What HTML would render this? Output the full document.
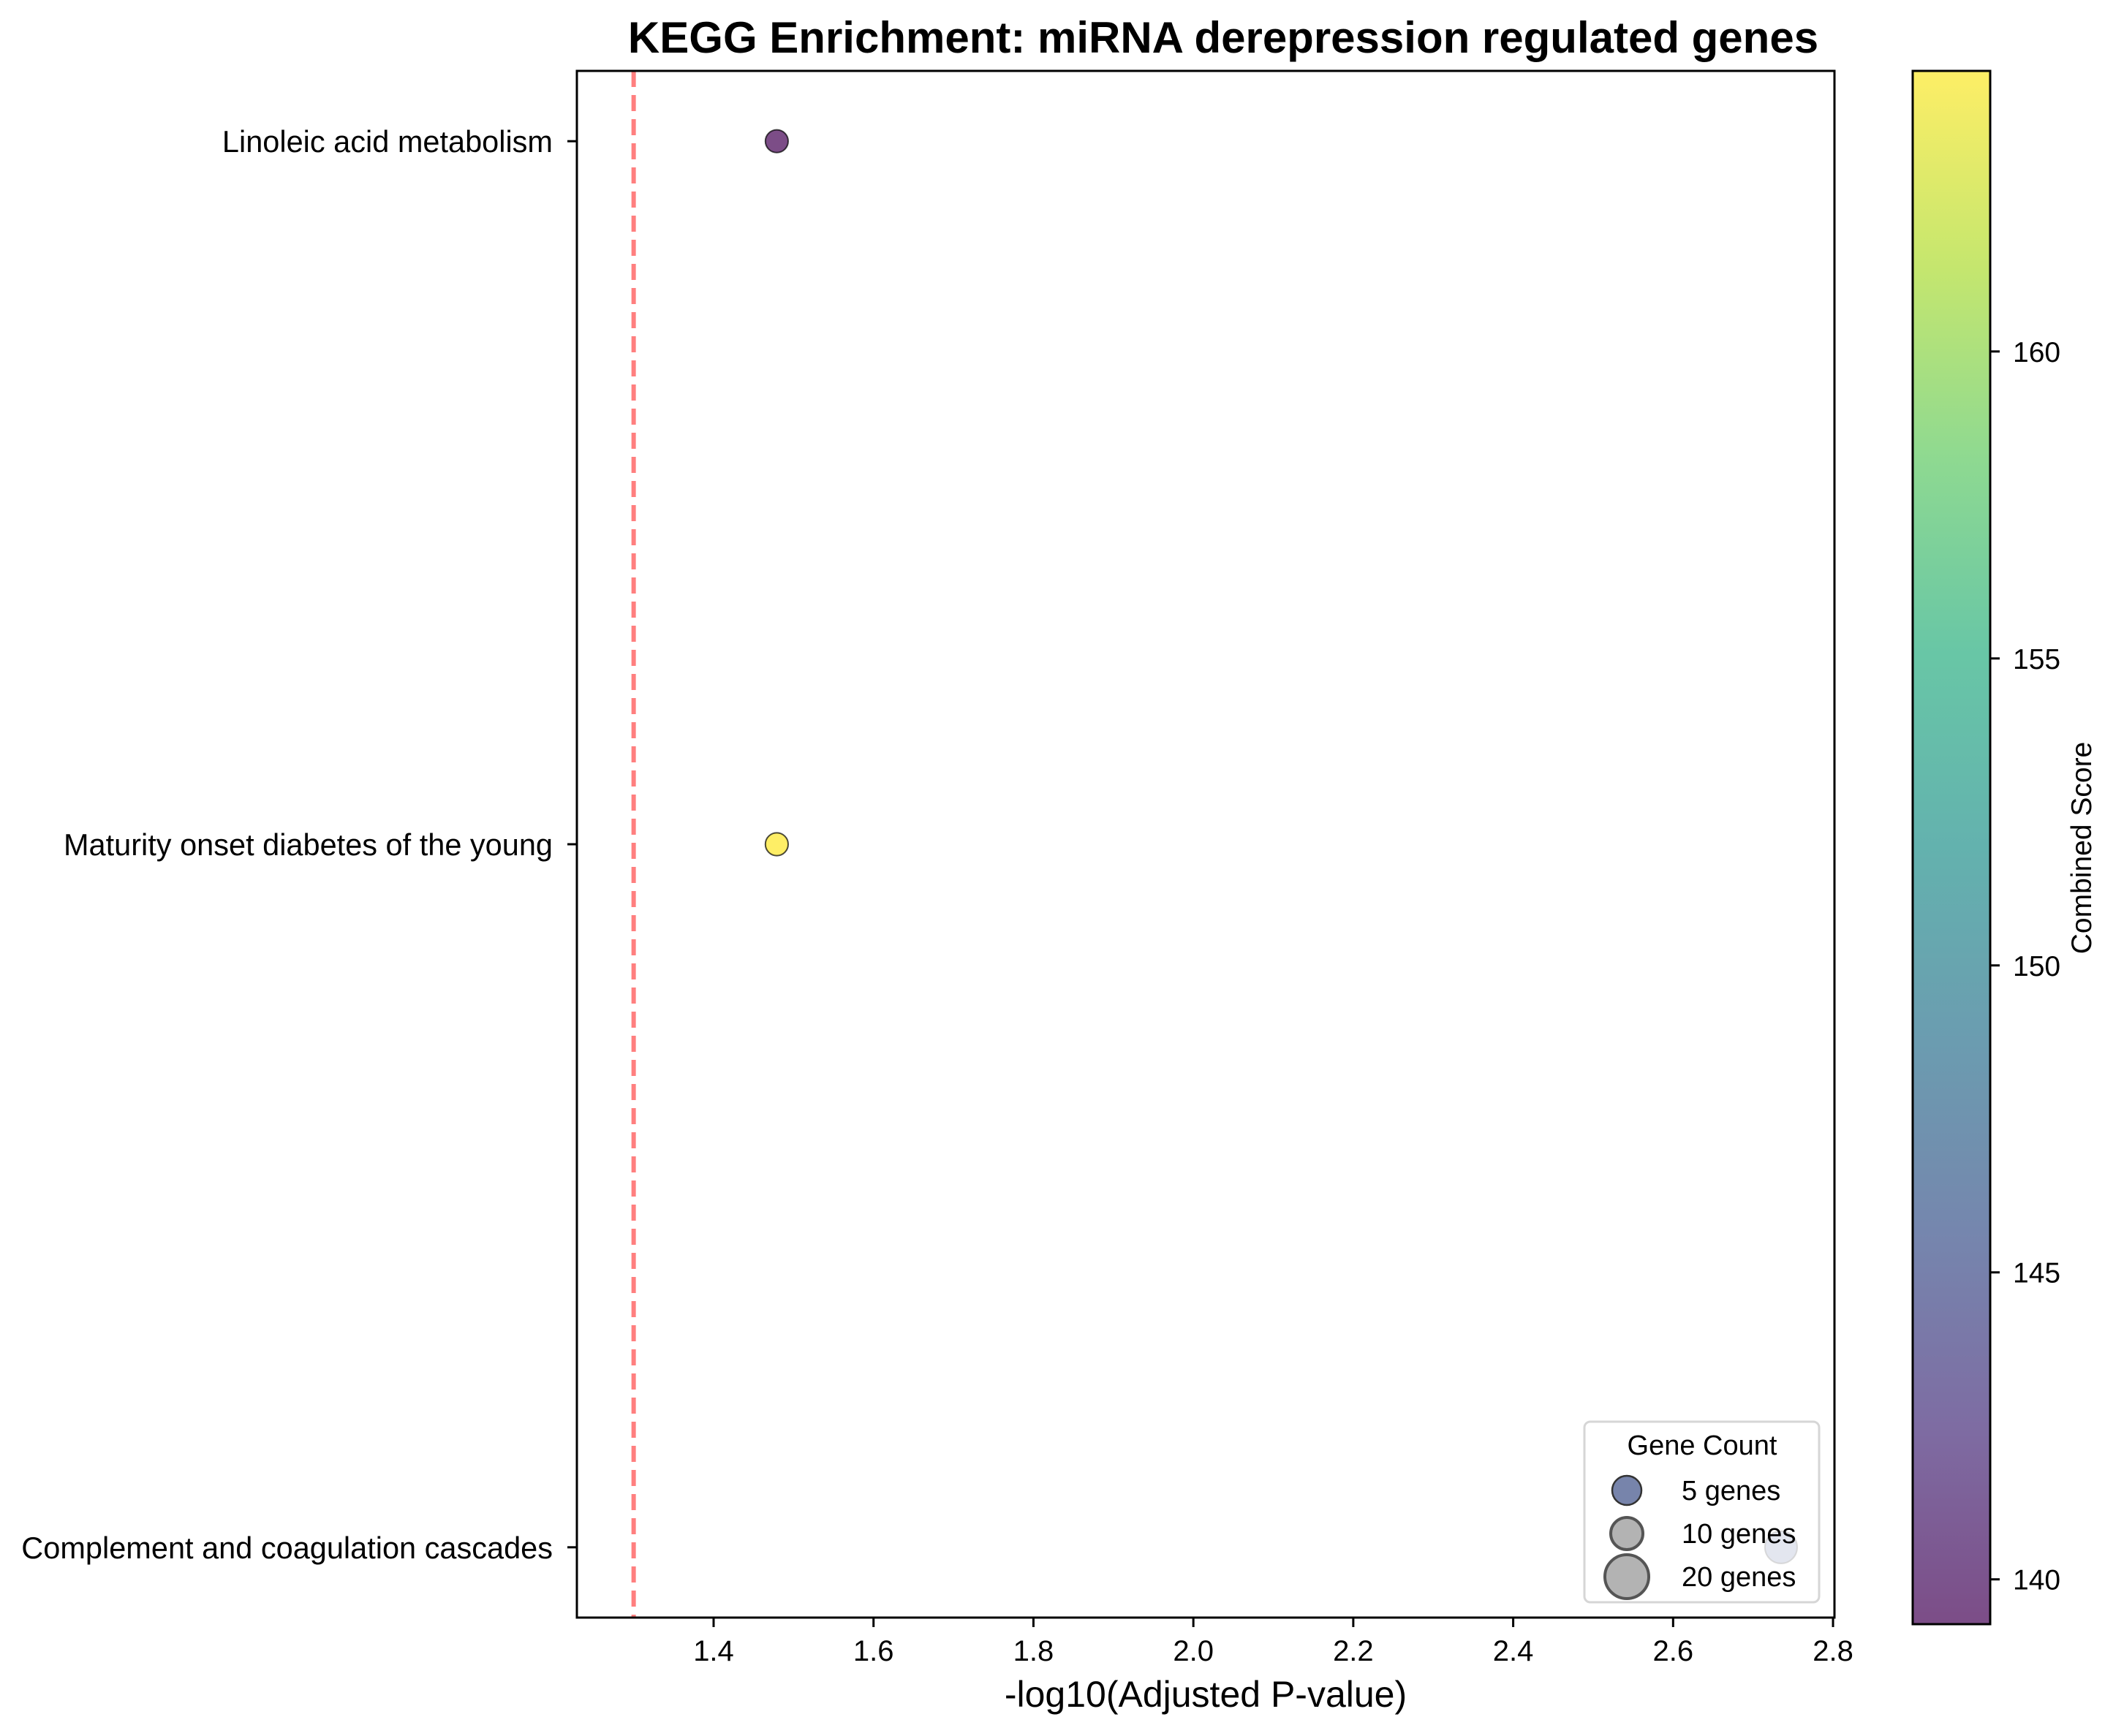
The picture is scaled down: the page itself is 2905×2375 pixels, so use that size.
<!DOCTYPE html>
<html><head><meta charset="utf-8"><style>
html,body{margin:0;padding:0;background:#fff}
svg{display:block;font-family:"Liberation Sans",Arial,sans-serif}
</style></head><body>
<svg id="chart" width="2905" height="2375" viewBox="0 0 2905 2375" xmlns="http://www.w3.org/2000/svg">
<defs>
<linearGradient id="vir" x1="0" y1="1" x2="0" y2="0">
<stop offset="0" stop-color="#440154"/><stop offset="0.125" stop-color="#472d7b"/><stop offset="0.25" stop-color="#3b528b"/><stop offset="0.375" stop-color="#2c728e"/><stop offset="0.5" stop-color="#21918c"/><stop offset="0.625" stop-color="#28ae80"/><stop offset="0.75" stop-color="#5ec962"/><stop offset="0.875" stop-color="#addc30"/><stop offset="1" stop-color="#fde725"/>
</linearGradient>
</defs>
<rect width="2905" height="2375" fill="#fff"/>
<text x="1673" y="72" text-anchor="middle" font-size="60" font-weight="bold">KEGG Enrichment: miRNA derepression regulated genes</text>
<g id="plot"></g>
<g id="legend"></g>
<g id="cbar"></g>
</svg>
<script>
const categories = ["Complement and coagulation cascades","Maturity onset diabetes of the young","Linoleic acid metabolism"];
const xValues = [2.735, 1.479, 1.479];
const geneCounts = [6, 3, 3];
const scores = [145.3, 164.57, 139.27];
const xTicks = [1.4,1.6,1.8,2.0,2.2,2.4,2.6,2.8];
const cbTicks = [140,145,150,155,160];
const threshold = 1.300;
const legendLabels = ["5 genes","10 genes","20 genes"];

const NS="http://www.w3.org/2000/svg";
function mk(tag,attrs,parent){const e=document.createElementNS(NS,tag);for(const k in attrs)e.setAttribute(k,attrs[k]);parent.appendChild(e);return e;}
const L=789,R=2509,T=97,B=2213;
const xMin=1.229,xMax=2.8018,yMin=-0.1,yMax=2.1;
const sx=v=>L+(v-xMin)/(xMax-xMin)*(R-L);
const sy=v=>B-(v-yMin)/(yMax-yMin)*(B-T);
const cMin=139.27,cMax=164.57,cT=97,cB=2222;
const sc=v=>cB-(v-cMin)/(cMax-cMin)*(cB-cT);
const stops=[[0x44,0x01,0x54],[0x47,0x2d,0x7b],[0x3b,0x52,0x8b],[0x2c,0x72,0x8e],[0x21,0x91,0x8c],[0x28,0xae,0x80],[0x5e,0xc9,0x62],[0xad,0xdc,0x30],[0xfd,0xe7,0x25]];
function viridis(t){t=Math.max(0,Math.min(1,t));const p=t*8,i=Math.min(7,Math.floor(p)),f=p-i;const a=stops[i],b=stops[i+1];return "rgb("+a.map((c,k)=>Math.round(c+(b[k]-c)*f)).join(",")+")";}
const plot=document.getElementById('plot');
const th=mk('line',{x1:sx(threshold),x2:sx(threshold),y1:T,y2:B,stroke:'#ff7f7f','stroke-width':6,'stroke-dasharray':'22 11'},plot);


categories.forEach((c,i)=>{
  const p=mk('circle',{cx:sx(xValues[i]),cy:sy(i),r:Math.sqrt(geneCounts[i])*9,fill:viridis((scores[i]-cMin)/(cMax-cMin)),'fill-opacity':0.7,stroke:'#000','stroke-opacity':0.7,'stroke-width':2},plot);
  
  
  mk('line',{x1:L-13,x2:L,y1:sy(i),y2:sy(i),stroke:'#000','stroke-width':3},plot);
  const t=mk('text',{x:L-33,y:sy(i)+15,'text-anchor':'end','font-size':41.5},plot);
  t.textContent=c;
  
  
});
xTicks.forEach(v=>{
  mk('line',{x1:sx(v),x2:sx(v),y1:B,y2:B+13,stroke:'#000','stroke-width':3},plot);
  const t=mk('text',{x:sx(v),y:2272,'text-anchor':'middle','font-size':40},plot);
  t.textContent=v.toFixed(1);
  
  
});
const xl=mk('text',{x:(L+R)/2,y:2335,'text-anchor':'middle','font-size':50},plot);
xl.textContent='-log10(Adjusted P-value)';


const lg=document.getElementById('legend');
const box=mk('rect',{x:2167,y:1945,width:321,height:247,rx:8,fill:'#fff','fill-opacity':0.8,stroke:'#d6d6d6','stroke-width':3},lg);


const lt=mk('text',{x:2328,y:1990,'text-anchor':'middle','font-size':38},lg);
lt.textContent='Gene Count';


const lr=[20,22,30],ly=[2039,2098,2157],lc=['#7784ab','#b3b3b3','#b3b3b3'];
legendLabels.forEach((s,i)=>{
  const m=mk('circle',{cx:2225,cy:ly[i],r:lr[i],fill:lc[i],stroke:i?'#555':'#333','stroke-width':i?4:2.5},lg);
  
  
  const t=mk('text',{x:2300,y:ly[i]+13,'font-size':38},lg);
  t.textContent=s;
  
  
});
const fr=mk('rect',{x:L,y:T,width:R-L,height:B-T,fill:'none',stroke:'#000','stroke-width':3},plot.parentNode);


const cb=document.getElementById('cbar');
const cr=mk('rect',{x:2616,y:cT,width:106,height:cB-cT,fill:'url(#vir)','fill-opacity':0.7,stroke:'#000','stroke-width':3},cb);


cbTicks.forEach(v=>{
  mk('line',{x1:2722,x2:2735,y1:sc(v),y2:sc(v),stroke:'#000','stroke-width':3},cb);
  const t=mk('text',{x:2753,y:sc(v)+14,'font-size':39},cb);
  t.textContent=v;
  
  
});
const ct=mk('text',{x:0,y:0,'text-anchor':'middle','font-size':39,transform:'translate(2860,1160) rotate(-90)'},cb);
ct.textContent='Combined Score';


</script>
</body></html>
